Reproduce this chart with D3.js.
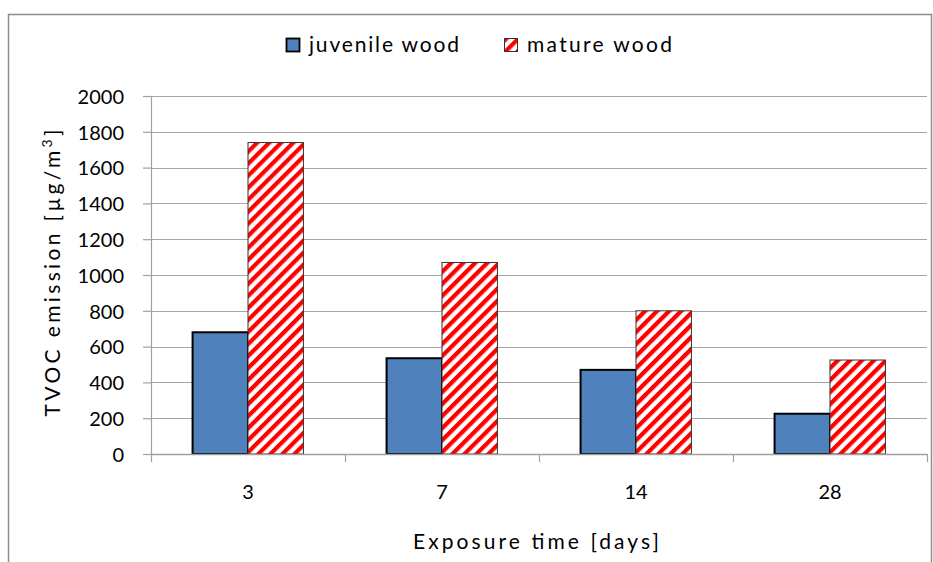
<!DOCTYPE html>
<html><head><meta charset="utf-8">
<script src="https://cdn.jsdelivr.net/npm/d3@7"></script>
<style>
body{margin:0;background:#fff}
text{font-family:Lato,"Open Sans",sans-serif;fill:#000}
</style>
</head><body>
<svg id="chart" width="933" height="562"></svg>
<script>
// ---- data ----
const categories = ["3", "7", "14", "28"];
const seriesNames = ["juvenile wood", "mature wood"];
const juvenileValues = [680, 535, 470, 225];
const matureValues = [1740, 1070, 800, 525];
const yTickValues = [0, 200, 400, 600, 800, 1000, 1200, 1400, 1600, 1800, 2000];
const xTitle = "Exposure time [days]";
const yTitleMain = "TVOC emission [µg/m";
const yTitleSup = "3";
const yTitleEnd = "]";

// ---- layout ----
const W = 933, H = 562;
const plot = {left: 151, right: 927, top: 96, bottom: 454};
const svg = d3.select("#chart");

const defs = svg.append("defs");
const pat = defs.append("pattern").attr("id", "stripes")
  .attr("patternUnits", "userSpaceOnUse")
  .attr("width", 8.5).attr("height", 8.5)
  .attr("patternTransform", "rotate(45)");
pat.append("rect").attr("width", 8.5).attr("height", 8.5).attr("fill", "#fff");
pat.append("rect").attr("width", 4.2).attr("height", 8.5).attr("fill", "#ff0000");

// outer border
svg.append("rect").attr("x", 8.5).attr("y", 14.5).attr("width", 923).attr("height", 570)
  .attr("fill", "#fff").attr("stroke", "#8c8c8c").attr("stroke-width", 1.5);

const x0 = d3.scaleBand().domain(categories).range([plot.left, plot.right])
  .paddingInner(3/7).paddingOuter(3/14);
const x1 = d3.scaleBand().domain(seriesNames).range([0, x0.bandwidth()]);
const y = d3.scaleLinear().domain([0, 2000]).range([plot.bottom, plot.top]);

// gridlines
svg.append("g").selectAll("line").data(yTickValues.filter(v => v > 0)).join("line")
  .attr("x1", plot.left).attr("x2", plot.right)
  .attr("y1", d => Math.round(y(d)) + 0.5).attr("y2", d => Math.round(y(d)) + 0.5)
  .attr("stroke", "#a6a6a6").attr("stroke-width", 1.2);

// bars
const rows = categories.map((c, i) => ({cat: c, vals: [juvenileValues[i], matureValues[i]]}));
const groups = svg.append("g").selectAll("g").data(rows).join("g")
  .attr("transform", d => `translate(${x0(d.cat)},0)`);
groups.selectAll("rect").data(d => d.vals.map((v, j) => ({name: seriesNames[j], v}))).join("rect")
  .attr("x", d => x1(d.name))
  .attr("width", x1.bandwidth())
  .attr("y", d => y(d.v))
  .attr("height", d => y(0) - y(d.v))
  .attr("fill", d => d.name === seriesNames[0] ? "#4f81bd" : "url(#stripes)")
  .attr("stroke", d => d.name === seriesNames[0] ? "#000" : "#333")
  .attr("stroke-width", d => d.name === seriesNames[0] ? 2 : 1);

// y axis
const yAxis = svg.append("g").attr("transform", `translate(${plot.left},0)`)
  .call(d3.axisLeft(y).tickValues(yTickValues).tickFormat(d3.format("d"))
    .tickSize(8).tickSizeOuter(0).tickPadding(19));
yAxis.select(".domain").attr("stroke", "#a0a0a0").attr("stroke-width", 1.2);
yAxis.selectAll(".tick line").attr("stroke", "#a0a0a0").attr("stroke-width", 1.2);
yAxis.selectAll(".tick text").style("font-size", "20px").style("font-family", "Lato")
  .attr("fill", "#000").attr("dy", "0.36em");

// x axis: boundary ticks
const xb = d3.scaleLinear().domain([0, categories.length]).range([plot.left, plot.right]);
const xAxisTicks = svg.append("g").attr("transform", `translate(0,${plot.bottom})`)
  .call(d3.axisBottom(xb).tickValues(d3.range(categories.length + 1)).tickSize(8).tickSizeOuter(0).tickFormat(""));
xAxisTicks.select(".domain").attr("stroke", "#a0a0a0").attr("stroke-width", 1.5);
xAxisTicks.selectAll(".tick line").attr("stroke", "#a0a0a0").attr("stroke-width", 1.2);

// x labels
const xAxisLabels = svg.append("g").attr("transform", `translate(0,${plot.bottom})`)
  .call(d3.axisBottom(x0).tickSize(0).tickPadding(31));
xAxisLabels.select(".domain").remove();
xAxisLabels.selectAll(".tick text").style("font-size", "20px").style("font-family", "Lato").attr("fill", "#000");

// axis titles
svg.append("text").attr("x", 536).attr("y", 549).attr("text-anchor", "middle")
  .style("font-size", "21px").attr("textLength", 246).attr("lengthAdjust", "spacing").text(xTitle);

const yt = svg.append("text").attr("transform", "translate(60,273) rotate(-90)")
  .attr("text-anchor", "middle").style("font-size", "21px")
  .attr("textLength", 287).attr("lengthAdjust", "spacing");
yt.append("tspan").text(yTitleMain);
yt.append("tspan").attr("dy", -8).style("font-size", "14px").text(yTitleSup);
yt.append("tspan").attr("dy", 8).text(yTitleEnd);

// legend
const legendX = [286, 504];
const leg = svg.append("g").selectAll("g").data(seriesNames).join("g")
  .attr("transform", (d, i) => `translate(${legendX[i]},38)`);
leg.append("rect").attr("x", 0.5).attr("y", 0.5).attr("width", 13).attr("height", 13)
  .attr("fill", (d, i) => i === 0 ? "#4f81bd" : "url(#stripes)")
  .attr("stroke", (d, i) => i === 0 ? "#000" : "#333").attr("stroke-width", (d, i) => i === 0 ? 1.8 : 1);
leg.append("text").attr("x", 23).attr("y", 14).style("font-size", "21px")
  .attr("textLength", (d, i) => i === 0 ? 150 : 145).attr("lengthAdjust", "spacing").text(d => d);
</script>
</body></html>
